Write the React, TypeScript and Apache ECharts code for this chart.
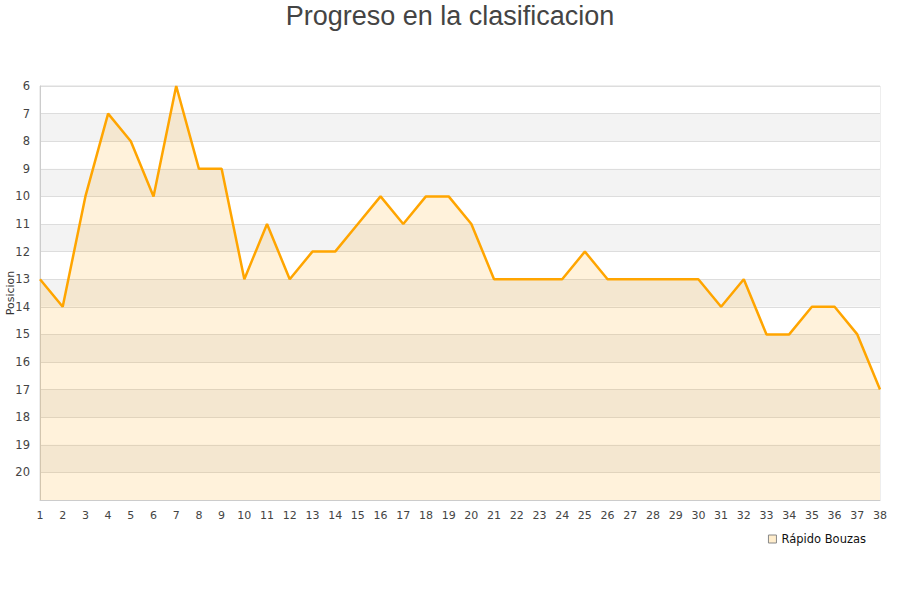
import React, { useEffect, useRef } from "react";
import * as echarts from "echarts";

const rounds = Array.from({ length: 38 }, (_, i) => String(i + 1));
const positions = [13, 14, 10, 7, 8, 10, 6, 9, 9, 13, 11, 13, 12, 12, 11, 10, 11, 10, 10, 11, 13, 13, 13, 13, 12, 13, 13, 13, 13, 13, 14, 13, 15, 15, 14, 14, 15, 17];
const teamName = "Rápido Bouzas";
const titleText = "Progreso en la clasificacion";
const yName = "Posicion";

export default function App() {
  const ref = useRef<HTMLDivElement>(null);
  useEffect(() => {
    const chart = echarts.init(ref.current!, null, { renderer: "svg" });
    chart.setOption({
      animation: false,
      backgroundColor: "#fff",
      title: {
        text: titleText,
        left: "center",
        top: -3,
        textStyle: { fontFamily: "Liberation Sans, Arial", fontSize: 27, fontWeight: "normal", color: "#444" },
      },
      legend: {
        data: [{ name: teamName, icon: "rect", itemStyle: { color: "#ffedcc", borderColor: "#888", borderWidth: 1 } }],
        right: 29,
        top: 528,
        itemWidth: 8,
        itemHeight: 8,
        itemGap: 10,
        textStyle: { fontFamily: "DejaVu Sans", fontSize: 11.5, color: "#111" },
      },
      graphic: [
        {
          type: "text",
          x: 10,
          y: 293,
          rotation: Math.PI / 2,
          style: {
            text: yName,
            fontFamily: "DejaVu Sans",
            fontSize: 11,
            fill: "#333",
            align: "center",
            verticalAlign: "middle",
          },
        },
      ],
      grid: {
        left: 40, right: 20, top: 86, bottom: 100,
        containLabel: false, outerBoundsMode: "none",
        show: true, borderColor: "#ddd", borderWidth: 1,
      },
      xAxis: {
        type: "category",
        data: rounds,
        boundaryGap: false,
        axisLine: { lineStyle: { color: "#ccc" } },
        axisTick: { show: false },
        axisLabel: { color: "#444", fontFamily: "DejaVu Sans", fontSize: 11, margin: 10, interval: 0 },
      },
      yAxis: {
        type: "value",
        inverse: true,
        min: 6,
        max: 21,
        interval: 1,
        axisLine: { show: true, lineStyle: { color: "#ccc" } },
        axisTick: { show: false },
        axisLabel: {
          color: "#444",
          fontFamily: "DejaVu Sans",
          fontSize: 11.5,
          margin: 10,
          formatter: (v: number) => (v === 21 ? "" : String(v)),
        },
        splitLine: { show: true, lineStyle: { color: "#ddd" } },
        splitArea: { show: true, areaStyle: { color: ["#ffffff", "#f3f3f3"] } },
      },
      series: [
        {
          name: teamName,
          type: "line",
          data: positions,
          symbol: "none",
          lineStyle: { color: "#ffa500", width: 2.5 },
          itemStyle: { color: "#ffedcc", borderColor: "#888" },
          areaStyle: { color: "rgba(255,165,0,0.2)", origin: "end" },
        },
      ],
    });
    return () => chart.dispose();
  }, []);
  return <div ref={ref} style={{ width: 900, height: 600, position: "absolute", left: 0, top: 0 }} />;
}
